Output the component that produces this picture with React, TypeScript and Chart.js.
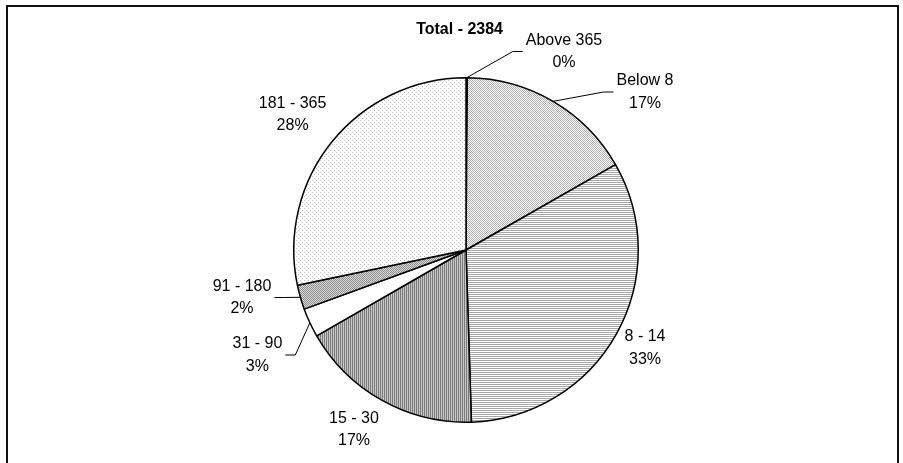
import { useEffect, useRef } from 'react';
import { Chart, registerables } from 'chart.js';

Chart.register(...registerables);

// data
const CATEGORIES = ['Above 365', 'Below 8', '8 - 14', '15 - 30', '31 - 90', '91 - 180', '181 - 365'];
const COUNTS = [3, 396, 781, 410, 65, 55, 674];

const TOTAL = COUNTS.reduce((a, b) => a + b, 0);
const PERCENTS = COUNTS.map(v => Math.round((v / TOTAL) * 100) + '%');

// label placement, relative to the pie centre (px); side = where the leader line attaches
const LABEL_LAYOUT: { dx: number; dy: number; side?: 'left' | 'right' }[] = [
    { dx: 98, dy: -198.5, side: 'left' },
    { dx: 179, dy: -158, side: 'left' },
    { dx: 179, dy: 98 },
    { dx: -112, dy: 179.5 },
    { dx: -208.6, dy: 105, side: 'right' },
    { dx: -224, dy: 47.5, side: 'right' },
    { dx: -173.4, dy: -135.5 },
];
const TITLE_OFFSET = { dx: -6.4, dy: -220 };
const LINE_GAP = 22.5;
const FONT = '"Liberation Sans", Arial, sans-serif';

function makePattern(ctx: CanvasRenderingContext2D, w: number, h: number, cells: string[]) {
    const tile = document.createElement('canvas');
    tile.width = w;
    tile.height = h;
    const t = tile.getContext('2d')!;
    for (let y = 0; y < h; y++) {
        for (let x = 0; x < w; x++) {
            t.fillStyle = cells[y * w + x];
            t.fillRect(x, y, 1, 1);
        }
    }
    return ctx.createPattern(tile, 'repeat')!;
}

const labelPlugin = {
    id: 'excelLabels',
    afterDatasetsDraw(chart: Chart) {
        const ctx = chart.ctx;
        const meta = chart.getDatasetMeta(0);
        if (!meta.data.length) return;
        const { x: cx, y: cy, outerRadius } = (meta.data[0] as any).getProps(['x', 'y', 'outerRadius'], true);

        ctx.save();
        ctx.fillStyle = '#000';
        ctx.strokeStyle = '#000';
        ctx.lineWidth = 1;
        ctx.textAlign = 'center';
        ctx.textBaseline = 'middle';

        ctx.font = 'bold 16px ' + FONT;
        ctx.fillText('Total - ' + TOTAL, cx + TITLE_OFFSET.dx, cy + TITLE_OFFSET.dy);

        ctx.font = '16px ' + FONT;
        meta.data.forEach((arc: any, i: number) => {
            const { startAngle, endAngle } = arc.getProps(['startAngle', 'endAngle'], true);
            const mid = (startAngle + endAngle) / 2;
            const pos = LABEL_LAYOUT[i];
            const lx = cx + pos.dx;
            const ly = cy + pos.dy;
            ctx.fillText(CATEGORIES[i], lx, ly - LINE_GAP / 2);
            ctx.fillText(PERCENTS[i], lx, ly + LINE_GAP / 2);

            if (pos.side) {
                const ex = cx + Math.cos(mid) * outerRadius;
                const ey = cy + Math.sin(mid) * outerRadius;
                const w = ctx.measureText(CATEGORIES[i]).width;
                const sign = pos.side === 'left' ? -1 : 1;
                const endX = lx + sign * (w / 2 + 3);
                const elbowX = endX + sign * 10;
                ctx.beginPath();
                ctx.moveTo(ex, ey);
                ctx.lineTo(elbowX, ly);
                ctx.lineTo(endX, ly);
                ctx.stroke();
            }
        });
        ctx.restore();
    },
};

export default function App() {
    const canvasRef = useRef<HTMLCanvasElement>(null);

    useEffect(() => {
        if (!canvasRef.current) return;
        const ctx = canvasRef.current.getContext('2d');
        if (!ctx) return;

        const W = '#ffffff';
        const fills = [
            makePattern(ctx, 2, 2, ['#b0b0b0', W, W, '#b0b0b0']),
            makePattern(ctx, 2, 2, ['#b0b0b0', W, W, '#b0b0b0']),
            makePattern(ctx, 1, 2, ['#a8a8a8', W]),
            makePattern(ctx, 2, 1, ['#7a7a7a', '#c8c8c8']),
            W,
            makePattern(ctx, 2, 2, ['#8c8c8c', '#dadada', '#dadada', '#8c8c8c']),
            makePattern(ctx, 4, 4, [
                '#bcbcbc', W, W, W,
                W, W, W, W,
                W, W, '#bcbcbc', W,
                W, W, W, W,
            ]),
        ];

        const chart = new Chart(ctx, {
            type: 'pie',
            data: {
                labels: CATEGORIES,
                datasets: [{
                    data: COUNTS,
                    backgroundColor: fills,
                    borderColor: '#000',
                    borderWidth: 1.5,
                }]
            },
            options: {
                responsive: false,
                animation: false,
                devicePixelRatio: 1,
                layout: { padding: { top: 77, bottom: 40, left: 166, right: 137 } },
                plugins: {
                    legend: { display: false },
                    tooltip: { enabled: false },
                    title: { display: false },
                }
            },
            plugins: [labelPlugin]
        });

        return () => chart.destroy();
    }, []);

    return (
        <div style={{ position: 'fixed', left: 0, top: 0, width: 903, height: 463, background: '#fff', overflow: 'hidden' }}>
            <div style={{ position: 'absolute', left: 6, top: 5, width: 893, height: 500, boxSizing: 'border-box', border: '2px solid #111' }} />
            <canvas ref={canvasRef} width={903} height={463} style={{ position: 'absolute', left: 0, top: 0 }} />
        </div>
    );
}
